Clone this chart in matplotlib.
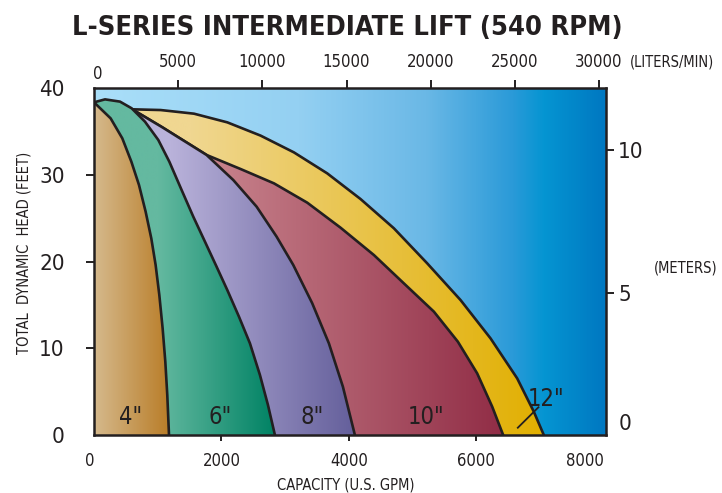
import numpy as np
import matplotlib
matplotlib.use('Agg')
import matplotlib.pyplot as plt
from matplotlib.colors import LinearSegmentedColormap
from matplotlib.patches import Polygon
from matplotlib import font_manager

# pump curves: capacity (U.S. GPM) vs total dynamic head (ft)
gpm_12 = [0, 617, 1046, 1569, 2092, 2615, 3137, 3660, 4183, 4706, 5229, 5752, 6223, 6641, 6902, 7059]
ft_12 = [37.54, 37.54, 37.46, 37.04, 36.04, 34.51, 32.58, 30.16, 27.2, 23.83, 19.79, 15.56, 11.14, 6.53, 2.69, 0]

gpm_10 = [0, 617, 837, 1072, 1307, 1543, 1767, 2301, 2824, 3347, 3869, 4392, 4863, 5334, 5710, 6013, 6249, 6421]
ft_10 = [37.46, 37.46, 36.5, 35.47, 34.39, 33.31, 32.28, 30.66, 29.01, 26.78, 23.9, 20.75, 17.48, 14.22, 10.76, 7.11, 3.27, 0]

gpm_8 = [0, 617, 837, 1072, 1307, 1543, 1767, 2186, 2552, 2866, 3127, 3425, 3686, 3906, 4094]
ft_8 = [37.46, 37.46, 36.5, 35.47, 34.39, 33.31, 32.28, 29.39, 26.32, 22.86, 19.6, 15.18, 10.57, 5.57, 0]

gpm_6 = [0, 173, 408, 591, 800, 1009, 1182, 1375, 1558, 1741, 1924, 2092, 2275, 2447, 2604, 2730, 2839]
ft_6 = [38.35, 38.69, 38.43, 37.66, 36.12, 34.01, 31.51, 28.24, 25.17, 22.29, 19.4, 16.71, 13.64, 10.57, 6.92, 3.46, 0]

gpm_4 = [0, 261, 444, 586, 706, 810, 899, 967, 1025, 1077, 1119, 1150, 1177]
ft_4 = [38.35, 36.5, 34.2, 31.51, 28.82, 25.75, 22.67, 19.6, 16.14, 12.3, 8.46, 4.61, 0]

sizes = ['12"', '10"', '8"', '6"', '4"']

gpm_ticks = [0, 2000, 4000, 6000, 8000]
ft_ticks = [0, 10, 20, 30, 40]
lpm_ticks = [0, 5000, 10000, 15000, 20000, 25000, 30000]
m_ticks = [0, 5, 10]

LPM = 3.785   # liters per gallon
FT_M = 3.281  # feet per meter
XMAX = 8030
YMAX = 40
INK = '#231f20'


def pick_font():
    # a condensed face looks closer to the original typesetting
    for fam, st in [('DejaVu Sans', 'condensed'), ('Liberation Sans Narrow', 'normal')]:
        try:
            f = font_manager.findfont(font_manager.FontProperties(family=fam, stretch=st),
                                      fallback_to_default=False)
            if 'ondensed' in f or 'Narrow' in f:
                return fam, st
        except Exception:
            pass
    return 'DejaVu Sans', 'normal'


FAM, STRETCH = pick_font()
plt.rcParams['font.family'] = [FAM, 'DejaVu Sans']
plt.rcParams['font.stretch'] = STRETCH

fig = plt.figure(figsize=(7.22, 4.93), dpi=100)
ax = fig.add_axes([0.1302, 0.1176, 0.7087, 0.7039])

cols = np.linspace(0, XMAX, 800)


def shade(verts_x, verts_y, c_list, x0, x1, z, clip=True):
    cmap = LinearSegmentedColormap.from_list('g', c_list)
    t = np.clip((cols - x0) / (x1 - x0), 0, 1)
    im = ax.imshow(t[None, :], cmap=cmap, vmin=0, vmax=1, extent=(0, XMAX, 0, YMAX),
                   aspect='auto', origin='lower', zorder=z, interpolation='bilinear')
    if clip:
        verts = [(0, 0)] + list(zip(verts_x, verts_y)) + [(verts_x[-1], 0)]
        patch = Polygon(verts, closed=True, facecolor='none', edgecolor='none')
        ax.add_patch(patch)
        im.set_clip_path(patch)
        ax.plot(verts_x, verts_y, color=INK, lw=1.9, zorder=z + 0.5, solid_joinstyle='round')


# sky background
shade(None, None, [(0.0, '#aadff9'), (0.4, '#94d0f2'), (0.65, '#6ab8e6'),
                   (0.82, '#2a9ad8'), (0.88, '#0595d2'), (1.0, '#0078c1')],
      0, XMAX, 0, clip=False)

curves = [
    (gpm_12, ft_12, ['#f0d791', '#e1af00'], 1500, 7059),
    (gpm_10, ft_10, ['#c6808a', '#912d46'], 2000, 6421),
    (gpm_8, ft_8, ['#b9b2da', '#645f9b'], 1200, 4094),
    (gpm_6, ft_6, ['#64b9a0', '#008264'], 1000, 2839),
    (gpm_4, ft_4, ['#d5b98c', '#b97d28'], 0, 1177),
]
for i, (gx, fy, cl, a, b) in enumerate(curves):
    shade(gx, fy, cl, a, b, i + 1)

# impeller size labels
lab_pos = {'4"': (575, 2.1), '6"': (1987, 2.1), '8"': (3425, 2.1), '10"': (5203, 2.1)}
for s in sizes:
    if s in lab_pos:
        ax.text(*lab_pos[s], s, fontsize=17, color=INK, ha='center', va='center', zorder=10)
ax.text(7098, 4.15, sizes[0], fontsize=17, color=INK, ha='center', va='center', zorder=10)
ax.plot([6651, 6975], [0.84, 3.2], color=INK, lw=1.3, zorder=10)

ax.set_xlim(0, XMAX)
ax.set_ylim(0, YMAX)
for sp in ax.spines.values():
    sp.set_linewidth(1.8)
    sp.set_color(INK)
    sp.set_zorder(20)

ax.set_xticks(gpm_ticks)
ax.set_xticklabels([str(v) for v in gpm_ticks])
ax.set_yticks(ft_ticks)
ax.tick_params(axis='x', length=4.5, width=1.4, pad=8, labelsize=12, colors=INK)
ax.tick_params(axis='y', length=6, width=1.4, pad=15, labelsize=16, colors=INK)
xt = ax.xaxis.get_major_ticks()
xt[0].tick1line.set_visible(False)
xt[-1].tick1line.set_visible(False)
xlabels = ax.get_xticklabels()
xlabels[0].set_ha('right')
xlabels[-1].set_ha('right')
yt = ax.yaxis.get_major_ticks()
yt[0].tick1line.set_visible(False)
yt[-1].tick1line.set_visible(False)

# liters/min on top
top = ax.secondary_xaxis('top', functions=(lambda g: g * LPM, lambda l: l / LPM))
top.set_xticks(lpm_ticks[1:])
top.tick_params(length=6, width=1.4, pad=6, labelsize=12, colors=INK)
top.spines['top'].set_visible(False)
ax.annotate(str(lpm_ticks[0]), xy=(lpm_ticks[0] / LPM, 1), xycoords=ax.get_xaxis_transform(),
            xytext=(2.5, 3.5), textcoords='offset points', ha='center', va='bottom',
            fontsize=12, color=INK)

# meters on the right
right = ax.secondary_yaxis('right', functions=(lambda f: f / FT_M, lambda m: m * FT_M))
right.set_yticks(m_ticks[1:])
right.tick_params(length=6, width=1.4, pad=3, labelsize=16, colors=INK)
right.spines['right'].set_visible(False)
ax.annotate(str(m_ticks[0]), xy=(1, m_ticks[0] * FT_M), xycoords=ax.get_yaxis_transform(),
            xytext=(9.5, 8), textcoords='offset points', ha='left', va='center',
            fontsize=16, color=INK)

fig.text(0.481, 0.944, 'L-SERIES INTERMEDIATE LIFT (540 RPM)', fontsize=19.5,
         fontweight='bold', ha='center', va='center', color=INK)
fig.text(24 / 722, 1 - 253 / 493, 'TOTAL  DYNAMIC  HEAD (FEET)', rotation=90,
         fontsize=10.5, ha='center', va='center', color=INK)
fig.text(346 / 722, 1 - 485 / 493, 'CAPACITY (U.S. GPM)', fontsize=10.5,
         ha='center', va='center', color=INK)
fig.text(672 / 722, 1 - 62 / 493, '(LITERS/MIN)', fontsize=10.5,
         ha='center', va='center', color=INK)
fig.text(686 / 722, 1 - 268 / 493, '(METERS)', fontsize=10.5,
         ha='center', va='center', color=INK)

fig.savefig('out.png', dpi=100)
